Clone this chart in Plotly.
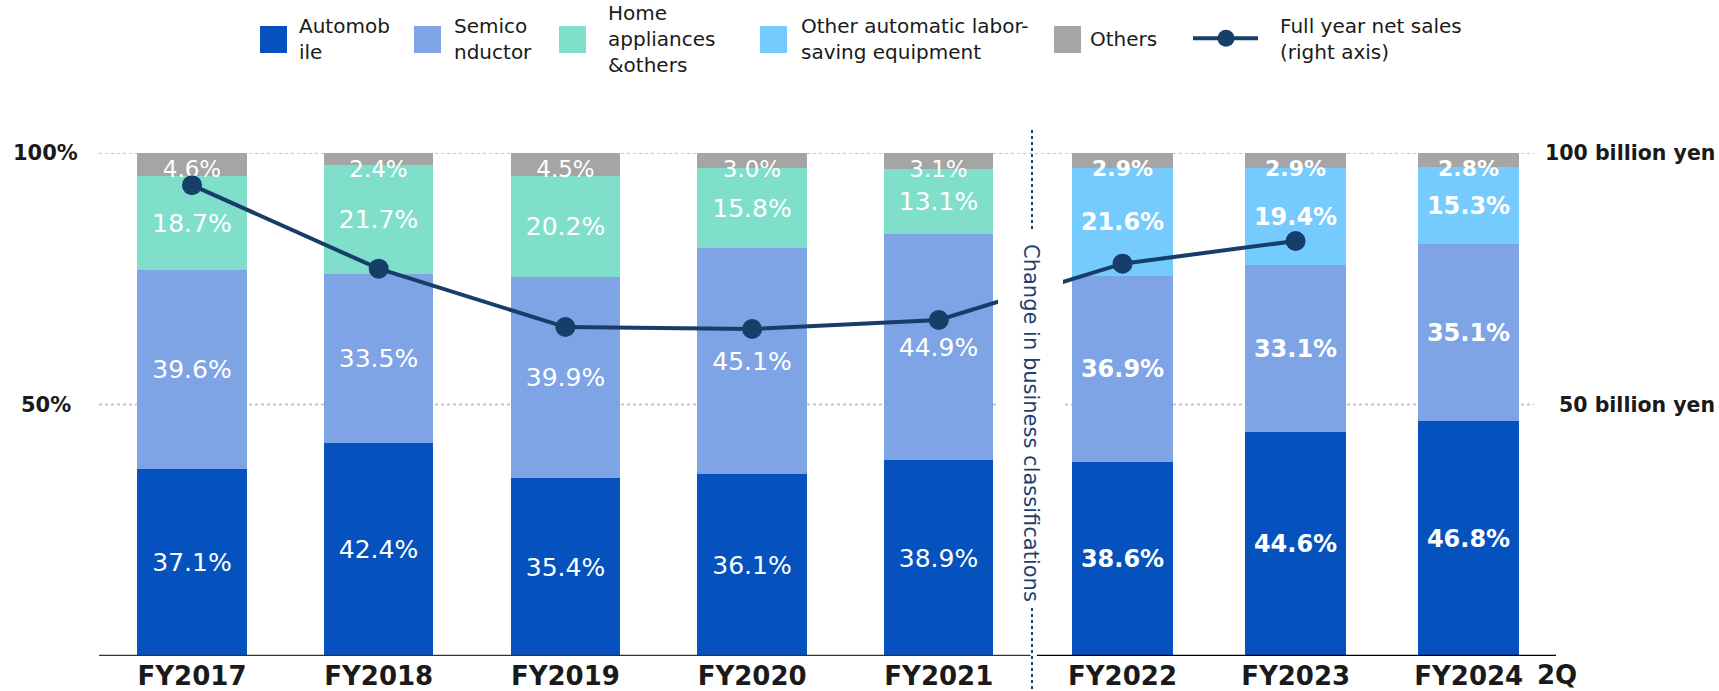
import plotly.graph_objects as go

# ---------------- data ----------------
categories_left = ["FY2017", "FY2018", "FY2019", "FY2020", "FY2021"]
categories_right = ["FY2022", "FY2023", "FY2024"]
period_suffix = "2Q"

automobile_left = [37.1, 42.4, 35.4, 36.1, 38.9]
automobile_right = [38.6, 44.6, 46.8]
semiconductor_left = [39.6, 33.5, 39.9, 45.1, 44.9]
semiconductor_right = [36.9, 33.1, 35.1]
home_appliances_left = [18.7, 21.7, 20.2, 15.8, 13.1]
other_automatic_right = [21.6, 19.4, 15.3]
others_left = [4.6, 2.4, 4.5, 3.0, 3.1]
others_right = [2.9, 2.9, 2.8]

net_sales_left = [93.6, 77.0, 65.4, 65.0, 66.8]   # billion yen (right axis)
net_sales_right = [78.0, 82.5, None]

pct_ticks = [50, 100]
pct_tick_labels = ["50%", "100%"]
yen_tick_labels = ["50 billion yen", "100 billion yen"]
divider_label = "Change in business classifications"

# ---------------- style / layout ----------------
FONT = "DejaVu Sans"
C_AUTO = "#0552BF"
C_SEMI = "#7FA4E6"
C_HOME = "#7FDFCA"
C_OTHER_AUTO = "#75CBFD"
C_OTHERS = "#A5A5A5"
C_LINE = "#173D69"
C_DIV = "#1F3F6F"
C_TEXT = "#1A1A1A"

W, H = 1719, 691
PL, PR, PT, PB = 99, 1556, 153, 656
LEFT_START, LEFT_STEP, LEFT_W = 192.0, 186.7, 109.3
RIGHT_START, RIGHT_STEP, RIGHT_W = 1122.5, 173.1, 101.5

xl = [LEFT_START + i * LEFT_STEP for i in range(len(categories_left))]
xr = [RIGHT_START + j * RIGHT_STEP for j in range(len(categories_right))]


def pxx(px):
    return (px - PL) / (PR - PL)


def pyy(px):
    return (PB - px) / (PB - PT)


def fmt(vals):
    return [f"{v:.1f}%" for v in vals]


fig = go.Figure()


def add_bar(x, vals, width, color, size, weight, anchor="middle"):
    fig.add_trace(go.Bar(
        x=x, y=vals, width=width, marker=dict(color=color, line=dict(width=0)),
        text=fmt(vals), textposition="inside", insidetextanchor=anchor,
        constraintext="none", cliponaxis=True,
        textfont=dict(family=FONT, size=size, color="white", weight=weight),
        showlegend=False, hoverinfo="skip", textangle=0,
    ))


add_bar(xl, automobile_left, LEFT_W, C_AUTO, 25, "normal")
add_bar(xr, automobile_right, RIGHT_W, C_AUTO, 24, "bold")
add_bar(xl, semiconductor_left, LEFT_W, C_SEMI, 25, "normal")
add_bar(xr, semiconductor_right, RIGHT_W, C_SEMI, 24, "bold")
add_bar(xl, home_appliances_left, LEFT_W, C_HOME, 25, "normal")
add_bar(xr, other_automatic_right, RIGHT_W, C_OTHER_AUTO, 24, "bold")
add_bar(xl, others_left, LEFT_W, C_OTHERS, 23, "normal", anchor="end")
add_bar(xr, others_right, RIGHT_W, C_OTHERS, 22, "bold", anchor="end")

fig.add_trace(go.Scatter(
    x=xl + xr, y=net_sales_left + net_sales_right, yaxis="y2",
    mode="lines+markers", line=dict(color=C_LINE, width=4),
    marker=dict(color=C_LINE, size=20), showlegend=False, hoverinfo="skip",
))

shapes = []
# dotted gridlines
for v in pct_ticks:
    shapes.append(dict(type="line", xref="x", yref="y", x0=PL, x1=1534, y0=v, y1=v,
                       line=dict(color="#C8C8C8", width=2, dash="dot"), layer="below"))
# axis baselines
shapes.append(dict(type="line", xref="x", yref="y", x0=PL, x1=1030.5, y0=0, y1=0,
                   line=dict(color="#333333", width=2.5), layer="above"))
shapes.append(dict(type="line", xref="x", yref="y", x0=1037, x1=PR, y0=0, y1=0,
                   line=dict(color="#000000", width=2.5), layer="above"))
# white band behind divider label
shapes.append(dict(type="rect", xref="x", yref="paper", x0=998, x1=1063,
                   y0=pyy(606), y1=pyy(230), fillcolor="white", line=dict(width=0), layer="above"))
# divider dotted line
for a, b in [(130, 230), (608, 691)]:
    shapes.append(dict(type="line", xref="x", yref="paper", x0=1032, x1=1032,
                       y0=pyy(a), y1=pyy(b), line=dict(color=C_DIV, width=2, dash="dot"),
                       layer="above"))

annotations = []
annotations.append(dict(text=divider_label, textangle=90, xref="x", yref="paper",
                        x=1031, y=pyy(423), showarrow=False, xanchor="center", yanchor="middle",
                        font=dict(family=FONT, size=21, color=C_DIV)))
# left axis labels
for v, lab in zip(pct_ticks, pct_tick_labels):
    annotations.append(dict(text=lab, xref="paper", yref="y", x=pxx(45.5), y=v,
                            showarrow=False, xanchor="center", yanchor="middle",
                            font=dict(family=FONT, size=21, color=C_TEXT, weight="bold")))
# right axis labels
for v, lab in zip(pct_ticks, yen_tick_labels):
    annotations.append(dict(text=lab, xref="paper", yref="y2", x=pxx(1717), y=v,
                            showarrow=False, xanchor="right", yanchor="middle",
                            font=dict(family=FONT, size=20.5, color=C_TEXT, weight="bold")))
# period suffix
annotations.append(dict(text=period_suffix, xref="x", yref="paper", x=xr[-1], xshift=66,
                        y=pyy(675), showarrow=False, xanchor="left", yanchor="middle",
                        font=dict(family=FONT, size=26, color=C_TEXT, weight="bold")))

# manual legend
legend_items = [
    ("square", C_AUTO, 260, 297, ["Automob", "ile"]),
    ("square", C_SEMI, 414, 452, ["Semico", "nductor"]),
    ("square", C_HOME, 559, 606, ["Home", "appliances", "&others"]),
    ("square", C_OTHER_AUTO, 760, 799, ["Other automatic labor-", "saving equipment"]),
    ("square", C_OTHERS, 1054, 1088, ["Others"]),
    ("line", C_LINE, 1193, 1278, ["Full year net sales", "(right axis)"]),
]
LEG_CY = 39.5
for kind, color, sx, tx, lines in legend_items:
    if kind == "square":
        shapes.append(dict(type="rect", xref="paper", yref="paper", x0=pxx(sx), x1=pxx(sx + 27),
                           y0=pyy(53), y1=pyy(26), fillcolor=color, line=dict(width=0)))
    else:
        shapes.append(dict(type="line", xref="paper", yref="paper", x0=pxx(sx), x1=pxx(sx + 65),
                           y0=pyy(38.3), y1=pyy(38.3), line=dict(color=color, width=4)))
        shapes.append(dict(type="circle", xref="paper", yref="paper", x0=pxx(sx + 33 - 8.5),
                           x1=pxx(sx + 33 + 8.5), y0=pyy(38.3 + 8.5), y1=pyy(38.3 - 8.5),
                           fillcolor=color, line=dict(width=0)))
    annotations.append(dict(text="<br>".join(lines), xref="paper", yref="paper", x=pxx(tx),
                            y=pyy(LEG_CY), showarrow=False, xanchor="left", yanchor="middle",
                            align="left", font=dict(family=FONT, size=20, color=C_TEXT)))

fig.update_layout(
    width=W, height=H, autosize=False,
    margin=dict(l=PL, r=W - PR, t=PT, b=H - PB, pad=0),
    paper_bgcolor="white", plot_bgcolor="white",
    barmode="stack", bargap=0, showlegend=False,
    font=dict(family=FONT, color=C_TEXT),
    xaxis=dict(range=[PL, PR], tickvals=xl + xr, ticktext=categories_left + categories_right,
               showgrid=False, zeroline=False, showline=False, ticks="",
               ticklabelstandoff=2,
               tickfont=dict(family=FONT, size=26, color=C_TEXT, weight="bold"),
               automargin=False, fixedrange=True),
    yaxis=dict(range=[0, 100], showgrid=False, zeroline=False, showticklabels=False,
               showline=False, automargin=False, fixedrange=True),
    yaxis2=dict(range=[0, 100], overlaying="y", side="right", showgrid=False, zeroline=False,
                showticklabels=False, showline=False, automargin=False, fixedrange=True),
    shapes=shapes, annotations=annotations,
)

fig.write_html("out.html")
